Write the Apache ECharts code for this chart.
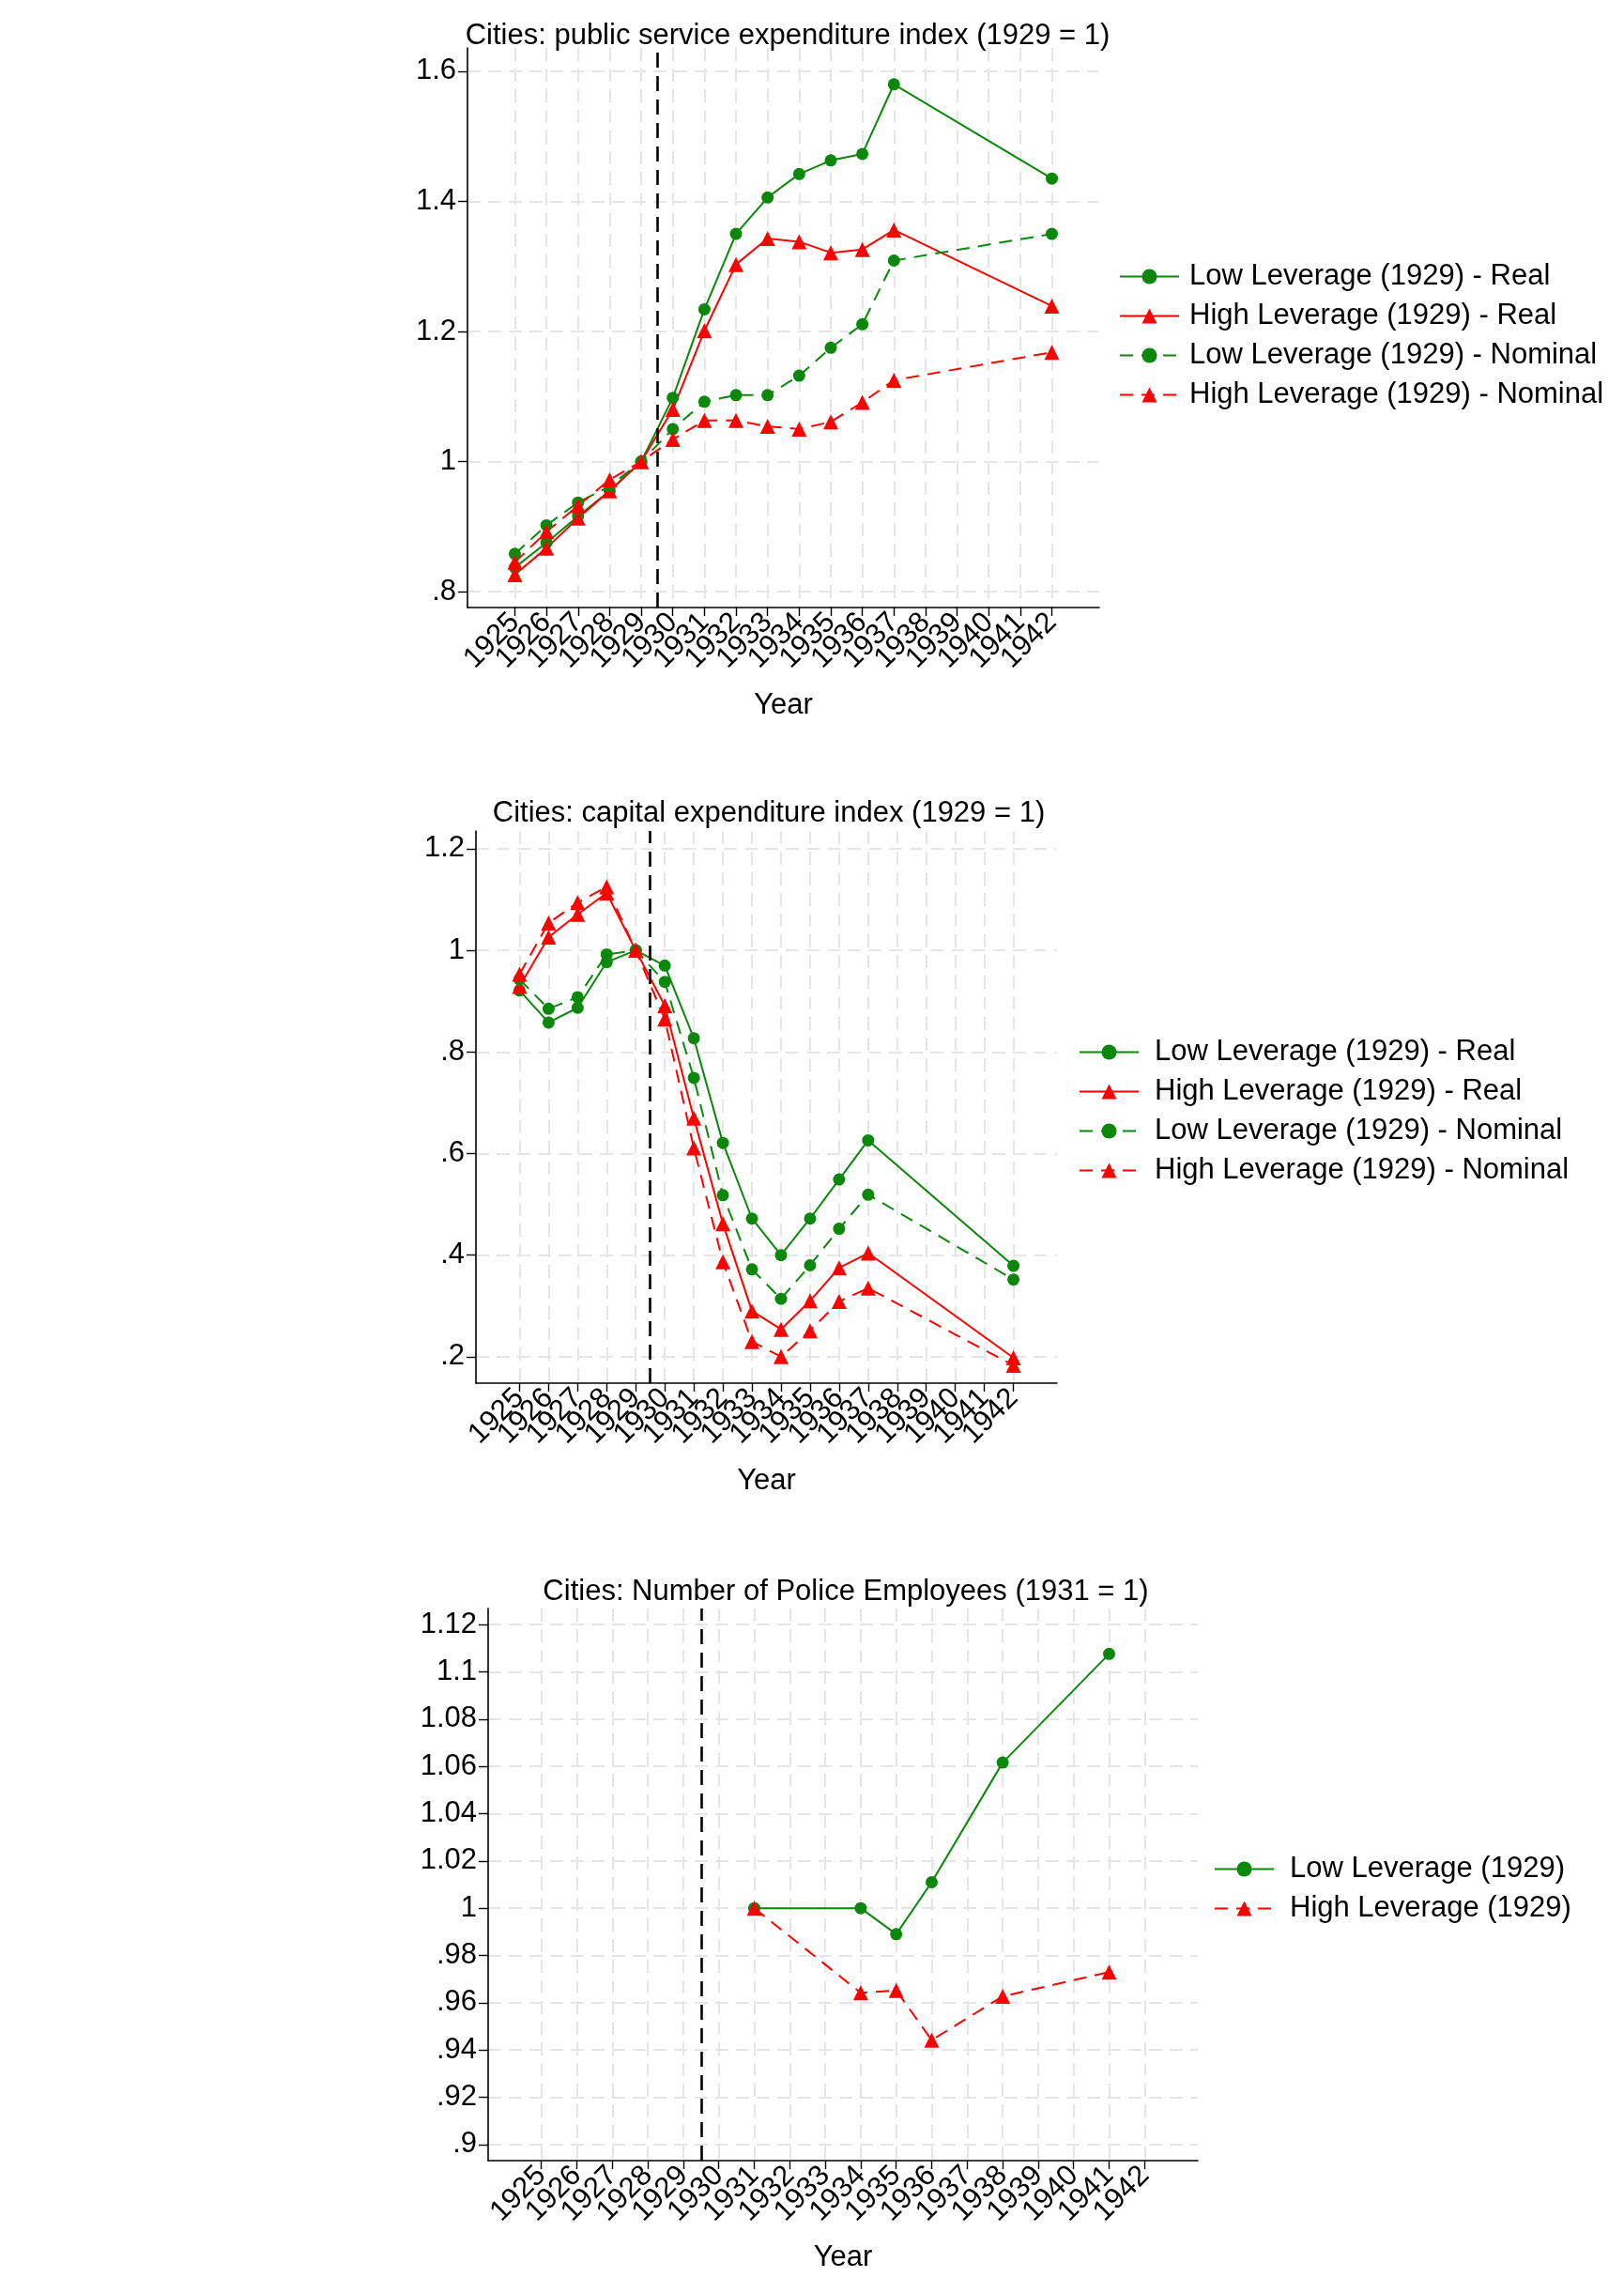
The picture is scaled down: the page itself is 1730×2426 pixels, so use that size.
<!DOCTYPE html>
<html>
<head>
<meta charset="utf-8">
<script src="https://cdn.jsdelivr.net/npm/echarts@6/dist/echarts.min.js"></script>
<style>
html,body{margin:0;padding:0;background:#fff;}
#c{width:1730px;height:2426px;}
</style>
</head>
<body>
<div id="c"></div>
<script>
// ---------- Data ----------
const xTicks = [1925,1926,1927,1928,1929,1930,1931,1932,1933,1934,1935,1936,1937,1938,1939,1940,1941,1942];
const xRange = [1923.5, 1943.5];

// Panel 1: public service expenditure index (1929 = 1)
const psYears   = [1925,1926,1927,1928,1929,1930,1931,1932,1933,1934,1935,1936,1937,1942];
const psLowReal  = [0.837,0.875,0.916,0.955,1.000,1.098,1.234,1.350,1.406,1.442,1.463,1.473,1.580,1.435];
const psHighReal = [0.826,0.867,0.913,0.955,1.000,1.080,1.201,1.303,1.343,1.338,1.321,1.326,1.356,1.239];
const psLowNom   = [0.858,0.902,0.937,0.962,1.000,1.050,1.092,1.102,1.102,1.132,1.175,1.211,1.309,1.350];
const psHighNom  = [0.845,0.892,0.932,0.972,1.000,1.034,1.063,1.063,1.054,1.050,1.061,1.091,1.125,1.168];
const yTicks1 = [0.8,1,1.2,1.4,1.6];

// Panel 2: capital expenditure index (1929 = 1)
const capYears   = [1925,1926,1927,1928,1929,1930,1931,1932,1933,1934,1935,1936,1937,1942];
const capLowReal  = [0.921,0.858,0.887,0.977,1.000,0.970,0.827,0.621,0.472,0.400,0.472,0.549,0.626,0.379];
const capHighReal = [0.929,1.026,1.071,1.113,1.000,0.891,0.670,0.462,0.290,0.254,0.310,0.375,0.404,0.198];
const capLowNom   = [0.943,0.885,0.908,0.992,1.000,0.938,0.749,0.518,0.372,0.314,0.380,0.452,0.519,0.352];
const capHighNom  = [0.953,1.054,1.094,1.125,1.000,0.865,0.611,0.387,0.230,0.200,0.251,0.309,0.335,0.183];
const yTicks2 = [0.2,0.4,0.6,0.8,1,1.2];

// Panel 3: Number of Police Employees (1931 = 1)
const polYears = [1931,1934,1935,1936,1938,1941];
const polLow   = [1.000,1.000,0.989,1.011,1.0616,1.1076];
const polHigh  = [1.000,0.9642,0.9652,0.9442,0.9627,0.973];
const yTicks3 = [0.9,0.92,0.94,0.96,0.98,1,1.02,1.04,1.06,1.08,1.1,1.12];

const names4 = ['Low Leverage (1929) - Real','High Leverage (1929) - Real','Low Leverage (1929) - Nominal','High Leverage (1929) - Nominal'];
const names2 = ['Low Leverage (1929)','High Leverage (1929)'];
const titles = ['Cities: public service expenditure index (1929 = 1)','Cities: capital expenditure index (1929 = 1)','Cities: Number of Police Employees (1931 = 1)'];
const breakYear = 1929.5;

// ---------- Style ----------
const FONT = '"Liberation Sans", Arial, Helvetica, sans-serif';
const GREEN = '#0b870b';
const RED = '#ff0000';
const FS = 31;

function fmtY(v){
  let s = String(+(+v).toFixed(3));
  return s.replace(/^0\./,'.');
}
// empty labels at the axis ends keep ECharts from dropping the crowded first/last year labels
function fmtX(v){ return Number.isInteger(+v) ? String(v) : ''; }
function pairs(xs, ys){ return xs.map((x,i)=>[x, ys[i]]); }

function xAxisCfg(g, nameGap){
  return {
    type:'value', gridIndex:g, min:xRange[0], max:xRange[1],
    name:'Year', nameLocation:'middle', nameGap:nameGap,
    nameTextStyle:{fontSize:FS, color:'#000', fontFamily:FONT},
    axisLine:{show:true, onZero:false, lineStyle:{color:'#000', width:1.6}},
    axisTick:{show:true, customValues:xTicks, length:9, lineStyle:{color:'#000', width:1.4}},
    axisLabel:{customValues:[xRange[0]].concat(xTicks, [xRange[1]]), rotate:45, fontSize:FS, lineHeight:16,
      color:'#000', fontFamily:FONT, margin:11,
      hideOverlap:false, showMinLabel:true, showMaxLabel:true, formatter:fmtX},
    splitLine:{show:true, lineStyle:{color:'#e6e6e6', width:2, type:[14,8]}}
  };
}
function yAxisCfg(g, min, max, ticks){
  return {
    type:'value', gridIndex:g, min:min, max:max,
    axisLine:{show:true, onZero:false, lineStyle:{color:'#000', width:1.6}},
    axisTick:{show:true, customValues:ticks, length:10, lineStyle:{color:'#000', width:1.4}},
    axisLabel:{customValues:ticks, fontSize:FS, color:'#000', fontFamily:FONT, margin:12,
      showMinLabel:true, showMaxLabel:true, formatter:fmtY},
    splitLine:{show:true, lineStyle:{color:'#e6e6e6', width:2, type:[14,8]}}
  };
}
function ser(name, g, xs, ys, color, symbol, dashed, withMark){
  const s = {
    name:name, type:'line', xAxisIndex:g, yAxisIndex:g,
    data:pairs(xs, ys),
    symbol:symbol, symbolSize: symbol==='circle' ? 13 : 16,
    showAllSymbol:true,
    itemStyle:{color:color},
    lineStyle:{color:color, width:2, type: dashed ? [14,9] : 'solid'},
    emphasis:{disabled:true},
    animation:false, z:3
  };
  if (withMark){
    s.markLine = {
      silent:true, symbol:['none','none'], label:{show:false}, animation:false,
      lineStyle:{color:'#000', width:2.6, type:[16,9]},
      emphasis:{disabled:true},
      data:[{xAxis:breakYear}]
    };
  }
  return s;
}
function legendCfg(left, top, names, pad){
  return {
    orient:'vertical', left:left, top:top, data:names,
    itemWidth:63, itemHeight:20, itemGap:11,
    selectedMode:false,
    textStyle:{fontSize:FS, color:'#000', fontFamily:FONT, lineHeight:31, padding:[0,0,0,pad]}
  };
}
function titleCfg(text, cx, top){
  return {text:text, left:cx, top:top, textAlign:'center',
    textStyle:{fontSize:FS, fontWeight:'normal', color:'#000', fontFamily:FONT}};
}

const option = {
  backgroundColor:'#ffffff',
  animation:false,
  title:[
    titleCfg(titles[0], 834, 18),
    titleCfg(titles[1], 814, 846),
    titleCfg(titles[2], 896, 1675)
  ],
  legend:[
    legendCfg(1187, 274, names4, 6),
    legendCfg(1144, 1100, names4.map(n=>n), 12),
    legendCfg(1288, 1970, names2, 12)
  ],
  grid:[
    {left:498, width:673, top:51, height:596},
    {left:507, width:619, top:885, height:588},
    {left:520, width:756, top:1713, height:588}
  ],
  xAxis:[ xAxisCfg(0, 89), xAxisCfg(1, 89), xAxisCfg(2, 88) ],
  yAxis:[
    yAxisCfg(0, 0.7755, 1.636, yTicks1),
    yAxisCfg(1, 0.148, 1.235, yTicks2),
    yAxisCfg(2, 0.8932, 1.1268, yTicks3)
  ],
  series:[
    ser(names4[0], 0, psYears, psLowReal,  GREEN, 'circle',   false, true),
    ser(names4[1], 0, psYears, psHighReal, RED,   'triangle', false, false),
    ser(names4[2], 0, psYears, psLowNom,   GREEN, 'circle',   true,  false),
    ser(names4[3], 0, psYears, psHighNom,  RED,   'triangle', true,  false),

    ser(names4[0], 1, capYears, capLowReal,  GREEN, 'circle',   false, true),
    ser(names4[1], 1, capYears, capHighReal, RED,   'triangle', false, false),
    ser(names4[2], 1, capYears, capLowNom,   GREEN, 'circle',   true,  false),
    ser(names4[3], 1, capYears, capHighNom,  RED,   'triangle', true,  false),

    ser(names2[0], 2, polYears, polLow,  GREEN, 'circle',   false, true),
    ser(names2[1], 2, polYears, polHigh, RED,   'triangle', true,  false)
  ]
};

const chart = echarts.init(document.getElementById('c'), null, {renderer:'canvas', width:1730, height:2426});
chart.setOption(option);
</script>
</body>
</html>
